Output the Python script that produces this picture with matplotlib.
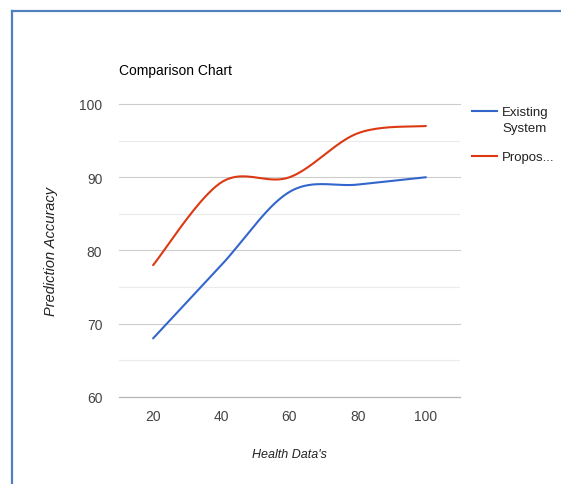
import numpy as np
import matplotlib.pyplot as plt
from matplotlib.lines import Line2D

plt.rcParams['font.family'] = ['Liberation Sans', 'DejaVu Sans']

# Data
health_data = [20, 40, 60, 80, 100]
existing = [68, 78, 88, 89, 90]
proposed = [78, 89.3, 90, 96, 97]
series_names = ["Existing\nSystem", "Propos..."]
colors = ["#3366cc", "#dc3912"]


def smooth(x, y, n=40):
    # cardinal-spline style smoothing like Google's curveType 'function'
    x = np.asarray(x, float)
    y = np.asarray(y, float)
    xs, ys = [], []
    for i in range(len(x) - 1):
        x0, y0 = (x[i - 1], y[i - 1]) if i > 0 else (x[i], y[i])
        x3, y3 = (x[i + 2], y[i + 2]) if i + 2 < len(x) else (x[i + 1], y[i + 1])
        x1, y1, x2, y2 = x[i], y[i], x[i + 1], y[i + 1]
        k = 1 / 6
        c1 = (x1 + (x2 - x0) * k, y1 + (y2 - y0) * k)
        c2 = (x2 - (x3 - x1) * k, y2 - (y3 - y1) * k)
        t = np.linspace(0, 1, n)
        bx = (1 - t) ** 3 * x1 + 3 * (1 - t) ** 2 * t * c1[0] + 3 * (1 - t) * t ** 2 * c2[0] + t ** 3 * x2
        by = (1 - t) ** 3 * y1 + 3 * (1 - t) ** 2 * t * c1[1] + 3 * (1 - t) * t ** 2 * c2[1] + t ** 3 * y2
        xs.extend(bx)
        ys.extend(by)
    return xs, ys


fig = plt.figure(figsize=(5.61, 4.85), dpi=100)
W, H = 561, 485
ax = fig.add_axes([119 / W, 1 - 398 / H, (460 - 119) / W, (398 - 105) / H])

for vals, c in zip([existing, proposed], colors):
    sx, sy = smooth(health_data, vals)
    ax.plot(sx, sy, color=c, lw=1.5, solid_capstyle='round', zorder=3)

ax.set_xlim(10, 110)
ax.set_ylim(60, 100)
ax.set_xticks(health_data)
ax.set_yticks([60, 70, 80, 90, 100])
for v in [65, 75, 85, 95]:
    ax.axhline(v, color="#ebebeb", lw=0.8, zorder=1)
for v in [70, 80, 90, 100]:
    ax.axhline(v, color="#cccccc", lw=0.8, zorder=1, clip_on=False)
ax.axhline(60, color="#b5b5b5", lw=0.9, zorder=2, clip_on=False)

for s in ax.spines.values():
    s.set_visible(False)
ax.tick_params(length=0, labelsize=10, colors="#444444")
ax.tick_params(axis='y', pad=12)
ax.tick_params(axis='x', pad=9)

ax.set_xlabel("Health Data's", fontsize=9, style='italic', color="#222222", labelpad=18)
ax.set_ylabel("Prediction Accuracy", fontsize=10.5, style='italic', color="#222222", labelpad=15)

fig.text(119 / W, 1 - 71 / H, "Comparison Chart", fontsize=10, color="#000000", va='center', ha='left')

# legend
leg_y = [112, 157]
for name, c, yy in zip(series_names, colors, leg_y):
    fig.add_artist(Line2D([472 / W, 497 / W], [1 - yy / H, 1 - yy / H], color=c, lw=1.5))
    fig.text(502 / W, 1 - (yy - 5) / H, name, fontsize=9.5, color="#222222",
             va='top', ha='left', linespacing=1.45)

# blue frame
frame = "#4f81bd"
fig.add_artist(Line2D([11.5 / W, 1.0], [1 - 12 / H, 1 - 12 / H], color=frame, lw=1.6))
fig.add_artist(Line2D([11.5 / W, 11.5 / W], [0, 1 - 12 / H], color=frame, lw=1.6))

fig.savefig("out.png", dpi=100)
